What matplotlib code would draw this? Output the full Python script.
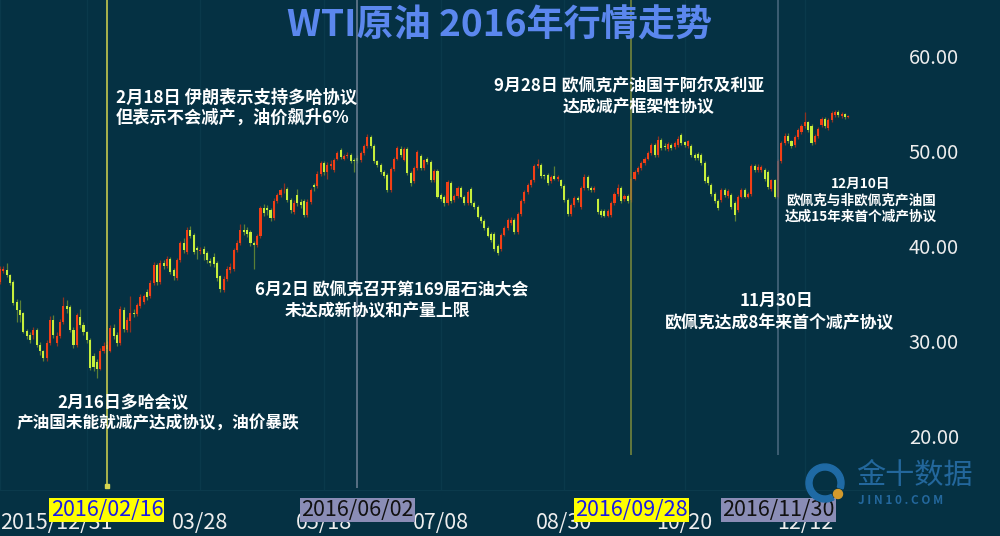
import numpy as np
import pandas as pd
import matplotlib
matplotlib.use('Agg')
import matplotlib.pyplot as plt
from matplotlib.patches import Wedge, Circle
from matplotlib.transforms import blended_transform_factory

# ---------------- data ----------------
start_date = '2015-12-31'
end_date = '2016-12-30'
holidays = ['2016-01-01', '2016-03-25', '2016-05-30', '2016-07-04',
            '2016-09-05', '2016-11-24', '2016-12-26']

opens = [
    36.2, 37.4, 37.5, 36.9, 36.2, 34.1, 33.3, 32.9, 31.1, 30.6,
    30.6, 31.2, 29.6, 28.9, 28.2, 29.8, 32.2, 29.8, 30.5, 32.0,
    33.7, 33.6, 31.2, 29.6, 32.5, 31.7, 30.9, 30.1, 28.4, 27.8,
    27.1, 29.0, 29.2, 29.0, 31.4, 30.6, 29.8, 33.3, 31.2, 32.1,
    33.0, 32.8, 33.7, 34.1, 35.2, 34.7, 36.1, 38.0, 36.2, 38.2,
    37.9, 38.6, 37.5, 36.6, 38.5, 40.3, 39.4, 41.7, 41.2, 39.8,
    39.5, 39.7, 39.3, 38.4, 38.8, 38.2, 36.8, 35.4, 36.5, 37.5,
    37.6, 39.6, 40.3, 41.7, 41.7, 41.5, 40.3, 40.1, 41.0, 44.0,
    44.0, 43.8, 42.9, 44.7, 45.4, 45.95, 46.0, 44.8, 43.6, 45.4,
    44.6, 44.7, 43.3, 44.6, 46.4, 46.3, 47.6, 48.7, 47.8, 48.4,
    48.0, 49.2, 50.1, 49.2, 49.5, 49.6, 49.1, 49.3, 49.0, 49.8,
    50.5, 51.5, 50.5, 48.9, 48.5, 47.8, 47.5, 45.9, 48.1, 49.2,
    50.2, 49.1, 50.2, 47.7, 46.8, 48.2, 49.5, 48.2, 49.2, 48.8,
    46.9, 47.9, 45.4, 45.2, 44.5, 46.6, 44.8, 45.3, 46.1, 45.2,
    44.5, 46.0, 44.5, 44.1, 43.1, 42.6, 41.9, 41.3, 41.3, 40.0,
    39.7, 41.2, 41.9, 42.4, 42.7, 41.5, 43.4, 44.7, 45.7, 46.4,
    46.9, 48.4, 48.5, 47.45, 47.5, 46.8, 47.4, 47.0, 46.9, 46.3,
    44.8, 43.4, 44.3, 45.1, 44.1, 46.1, 47.3, 46.1, 45.9, 44.9,
    43.7, 43.7, 43.2, 43.3, 44.5, 45.5, 46.1, 44.9, 45.3, 44.8,
    47.1, 47.8, 48.2, 48.7, 49.2, 49.8, 50.6, 49.6, 51.2, 50.5,
    50.2, 50.6, 50.4, 50.6, 51.7, 50.9, 50.5, 50.5, 49.6, 49.7,
    49.6, 48.7, 47.3, 46.4, 45.5, 44.7, 44.8, 45.9, 45.3, 45.4,
    44.5, 43.8, 45.2, 45.9, 45.2, 45.5, 48.4, 48.0, 48.0, 48.0,
    47.8, 46.0, 46.9, 45.2, 48.9, 50.8, 51.6, 51.0, 50.6, 51.5,
    52.0, 52.6, 53.0, 52.6, 50.9, 51.6, 52.7, 53.4, 52.4, 53.3,
    53.8, 54.1, 53.7, 53.9, 53.6,
]
closes = [
    37.6, 37.6, 36.9, 36.1, 34.0, 33.3, 32.7, 31.0, 30.5, 30.1,
    31.2, 29.6, 28.9, 28.2, 29.8, 32.2, 30.6, 30.5, 32.0, 33.7,
    33.4, 31.2, 29.6, 32.7, 31.7, 30.9, 30.1, 27.2, 27.3, 27.1,
    29.0, 29.5, 29.6, 31.4, 30.5, 29.8, 33.4, 31.3, 32.2, 33.0,
    32.8, 33.8, 34.6, 34.7, 34.6, 36.1, 38.0, 36.2, 38.2, 37.9,
    38.6, 37.3, 36.8, 38.5, 40.3, 39.6, 41.7, 41.0, 39.4, 39.6,
    39.6, 39.2, 38.5, 38.2, 38.1, 36.6, 35.5, 36.5, 37.6, 37.8,
    39.6, 40.3, 41.7, 41.5, 41.3, 40.3, 40.1, 41.0, 44.0, 43.5,
    43.8, 42.9, 44.7, 45.4, 45.9, 46.05, 44.8, 43.8, 44.5, 44.5,
    44.3, 43.3, 44.6, 45.9, 46.2, 47.6, 48.7, 47.8, 48.5, 48.6,
    49.1, 49.8, 49.4, 49.5, 49.6, 48.9, 48.9, 48.9, 49.8, 50.5,
    51.5, 50.5, 48.9, 48.5, 47.8, 47.4, 45.9, 48.1, 49.2, 50.3,
    49.6, 50.2, 47.7, 46.6, 48.2, 49.9, 48.2, 49.0, 48.8, 46.9,
    47.9, 45.2, 44.9, 44.5, 46.7, 44.7, 45.3, 46.1, 45.2, 44.5,
    45.7, 44.5, 44.1, 43.1, 42.6, 41.9, 41.1, 40.6, 39.7, 39.3,
    41.2, 41.9, 42.7, 42.7, 41.5, 43.4, 44.7, 45.7, 46.4, 46.9,
    48.4, 48.6, 47.4, 47.35, 46.6, 47.3, 47.1, 47.3, 46.3, 44.8,
    43.4, 44.3, 45.1, 44.8, 46.1, 47.3, 46.1, 45.9, 46.1, 43.6,
    43.3, 43.2, 43.7, 44.5, 45.5, 46.1, 44.7, 45.3, 44.7, 47.1,
    47.8, 48.2, 48.7, 49.2, 49.8, 50.6, 49.6, 51.2, 50.3, 50.4,
    50.7, 50.3, 50.8, 51.3, 50.8, 50.6, 51.0, 49.6, 49.3, 49.3,
    48.7, 46.8, 46.6, 45.5, 44.7, 44.0, 45.9, 45.4, 45.8, 44.1,
    43.3, 45.2, 45.9, 45.2, 45.5, 48.4, 48.0, 48.3, 48.3, 47.0,
    46.2, 46.9, 45.2, 48.9, 50.8, 51.6, 51.0, 50.5, 51.5, 52.2,
    52.6, 53.0, 52.2, 50.8, 51.6, 52.3, 53.4, 52.6, 53.3, 54.0,
    54.1, 53.8, 53.9, 53.6, 53.7,
]
highs = [
    37.9, 37.9, 38.2, 37.1, 36.4, 34.4, 34.3, 33.1, 31.3, 30.9,
    31.5, 31.4, 29.9, 29.1, 30.1, 32.6, 32.7, 30.9, 32.3, 34.6,
    34.3, 33.8, 31.5, 33.0, 33.4, 32.0, 31.1, 30.3, 28.7, 28.1,
    29.3, 29.9, 30.0, 31.7, 31.8, 30.9, 33.7, 33.6, 32.5, 34.7,
    33.4, 34.0, 34.9, 35.0, 35.5, 36.4, 38.3, 38.2, 38.5, 38.5,
    38.9, 38.8, 37.7, 38.7, 40.5, 40.8, 42.0, 42.1, 41.4, 40.0,
    39.9, 40.0, 39.5, 38.7, 39.3, 38.4, 37.0, 36.8, 37.9, 38.2,
    39.8, 40.6, 42.3, 42.3, 42.0, 41.7, 40.5, 41.3, 44.2, 44.4,
    44.3, 44.0, 45.0, 45.6, 46.1, 46.6, 46.2, 45.0, 44.8, 46.0,
    44.9, 44.9, 44.9, 46.1, 46.6, 47.9, 48.9, 48.9, 48.8, 49.0,
    49.3, 50.0, 50.3, 49.7, 49.9, 49.8, 49.3, 49.6, 50.0, 50.7,
    51.8, 51.7, 50.7, 49.1, 48.7, 48.0, 47.7, 48.3, 49.4, 50.5,
    50.5, 50.4, 50.4, 47.9, 48.4, 50.1, 49.7, 49.2, 49.4, 49.0,
    48.1, 48.1, 45.6, 45.4, 46.9, 46.8, 45.5, 46.3, 46.3, 45.4,
    45.9, 46.2, 44.7, 44.3, 43.3, 42.8, 42.1, 41.5, 41.5, 40.2,
    41.4, 42.1, 42.9, 43.0, 42.9, 43.6, 44.9, 45.9, 46.6, 47.1,
    48.6, 49.2, 48.7, 47.6, 47.7, 47.5, 48.4, 47.5, 47.1, 46.5,
    45.0, 44.5, 45.3, 45.3, 46.3, 47.6, 47.5, 46.3, 46.3, 45.1,
    43.9, 43.9, 43.9, 44.7, 45.7, 46.5, 46.3, 45.5, 45.5, 47.3,
    48.0, 48.4, 48.9, 49.4, 50.0, 50.8, 50.8, 51.6, 51.4, 50.8,
    50.9, 50.8, 51.0, 51.6, 51.9, 51.1, 51.2, 50.7, 49.8, 49.9,
    49.8, 48.9, 47.5, 46.6, 45.7, 44.9, 46.1, 46.1, 46.0, 45.6,
    44.7, 45.4, 46.1, 46.1, 45.7, 48.6, 48.6, 48.6, 48.5, 48.2,
    48.0, 47.1, 47.1, 49.2, 51.0, 51.9, 51.9, 51.2, 51.7, 52.4,
    52.8, 54.1, 53.2, 52.8, 51.8, 52.5, 53.6, 53.6, 53.5, 54.2,
    54.3, 54.3, 54.1, 54.0, 53.8,
]
lows = [
    36.0, 37.2, 36.7, 35.9, 33.8, 32.0, 32.0, 30.8, 30.2, 29.8,
    30.2, 29.4, 28.5, 27.9, 27.9, 29.6, 30.3, 29.5, 30.3, 31.8,
    33.0, 31.0, 29.3, 29.4, 31.4, 30.6, 29.8, 27.0, 26.8, 26.1,
    26.9, 28.7, 28.9, 28.8, 30.2, 29.5, 29.6, 31.0, 30.9, 31.0,
    32.5, 32.6, 33.5, 33.9, 34.3, 34.5, 35.9, 35.9, 36.0, 37.6,
    37.7, 37.1, 36.4, 36.4, 38.3, 39.3, 39.2, 40.8, 39.2, 38.6,
    39.2, 38.5, 38.2, 37.9, 37.8, 36.3, 35.2, 35.2, 36.3, 37.2,
    37.4, 39.4, 40.1, 41.2, 40.9, 40.0, 37.6, 39.9, 40.8, 43.2,
    43.3, 42.6, 42.7, 44.5, 45.2, 45.6, 44.6, 43.5, 43.4, 44.2,
    44.0, 43.1, 43.1, 44.4, 45.8, 46.1, 47.4, 47.5, 47.0, 48.1,
    47.8, 49.0, 49.2, 49.0, 49.3, 48.7, 47.8, 48.7, 48.8, 49.6,
    50.3, 50.3, 48.7, 48.3, 47.6, 47.2, 45.7, 45.7, 47.9, 49.0,
    49.4, 48.9, 47.5, 46.3, 46.6, 48.0, 48.0, 48.0, 48.6, 46.7,
    46.7, 45.0, 44.7, 44.2, 44.3, 44.5, 44.6, 45.1, 45.0, 44.3,
    44.3, 44.3, 43.9, 42.9, 42.4, 41.7, 40.9, 40.4, 39.5, 39.1,
    39.5, 41.0, 41.7, 42.2, 41.3, 41.3, 43.2, 44.5, 45.5, 46.2,
    46.7, 48.2, 47.2, 47.1, 46.4, 46.6, 46.9, 46.8, 46.1, 44.6,
    43.2, 43.2, 44.1, 44.6, 43.9, 45.9, 45.9, 45.7, 45.7, 43.4,
    43.1, 43.0, 43.0, 43.1, 44.3, 45.3, 44.5, 44.7, 44.5, 44.6,
    46.9, 47.6, 48.0, 48.5, 49.0, 49.6, 49.4, 49.4, 50.1, 50.1,
    50.0, 50.1, 50.2, 50.4, 50.6, 50.4, 50.3, 49.4, 49.1, 49.1,
    48.5, 46.6, 46.4, 45.3, 44.5, 43.8, 44.6, 45.2, 45.1, 43.9,
    42.6, 43.6, 45.0, 45.0, 45.0, 45.3, 47.8, 47.8, 47.8, 46.8,
    46.0, 45.8, 45.0, 45.0, 48.7, 50.6, 50.8, 50.3, 50.4, 51.3,
    51.8, 52.4, 52.0, 50.6, 50.7, 51.4, 52.5, 52.4, 52.2, 53.1,
    53.6, 53.6, 53.5, 53.4, 53.5,
]

y_ticks = [20, 30, 40, 50, 60]
tick_dates = ['2015-12-31', '2016-02-08', '2016-03-28', '2016-05-18',
              '2016-07-08', '2016-08-30', '2016-10-20', '2016-12-12']
tick_labels = ['2015/12/31', '', '03/28', '05/18', '07/08', '08/30', '10/20', '12/12']

event_dates = ['2016-02-16', '2016-06-02', '2016-09-28', '2016-11-30']
event_labels = ['2016/02/16', '2016/06/02', '2016/09/28', '2016/11/30']

title = 'WTI原油 2016年行情走势'

# ---------------- style ----------------
plt.rcParams['font.family'] = ['Noto Sans CJK SC', 'DejaVu Sans']
BG = '#053143'
UP, DOWN = '#f23f16', '#c6ee3c'
UP_W, DOWN_W = '#8e3222', '#5a7f36'

dates = pd.bdate_range(start_date, end_date, freq='C', holidays=holidays)
n = min(len(dates), len(closes))
dates = dates[:n]
pos = {d.strftime('%Y-%m-%d'): i for i, d in enumerate(dates)}

o = np.array(opens[:n]); c = np.array(closes[:n])
h = np.array(highs[:n]); l = np.array(lows[:n])
x = np.arange(n)
up = c >= o

fig = plt.figure(figsize=(10, 5.36), dpi=100, facecolor=BG)
ax = fig.add_axes([0, 46 / 536, 0.895, 490 / 536])
ax.set_facecolor(BG)

ax.vlines(x, l, h, colors=np.where(up, UP_W, DOWN_W), lw=0.9, zorder=2)
ax.bar(x, np.maximum(np.abs(c - o), 0.09), bottom=np.minimum(o, c), width=0.62,
       color=np.where(up, UP, DOWN), linewidth=0, zorder=3)

ax.set_xlim(0, 268)
ax.set_ylim(14.32, 65.89)

ax.yaxis.tick_right()
ax.set_yticks(y_ticks)
ax.set_yticklabels([f'{v:.2f}' for v in y_ticks])
ax.tick_params(axis='y', length=0, pad=10, labelsize=14.5, colors='#eeeeee')

ax.set_xticks([pos[d] for d in tick_dates])
ax.set_xticklabels(tick_labels)
ax.tick_params(axis='x', length=0, pad=15.5, labelsize=15.5, colors='#eeeeee')
ax.get_xticklabels()[0].set_horizontalalignment('left')
ax.grid(axis='x', color='#0a394b', lw=0.9, zorder=0)

for s in ['top', 'right', 'left']:
    ax.spines[s].set_visible(False)
ax.spines['bottom'].set_color('#0b3a4c')

# event lines
ev_colors = ['#d6d650', '#6f8196', '#7c8c3c', '#4c6a80']
ev_bottoms = [14.63, 14.53, 18.0, 18.0]
for d, col, b in zip(event_dates, ev_colors, ev_bottoms):
    ax.vlines(pos[d], b, 65.89, colors=col, lw=1.1, zorder=4)
ax.plot([pos[event_dates[0]]], [14.7], marker='s', ms=3, color=ev_colors[0], zorder=4,
        clip_on=False)

trans = blended_transform_factory(ax.transData, ax.transAxes)
box_styles = [('#ffff00', '#1a1ae6'), ('#8a8db6', '#111111'),
              ('#ffff00', '#1a1ae6'), ('#8a8db6', '#111111')]
for d, lab, (fc, tc) in zip(event_dates, event_labels, box_styles):
    ax.text(pos[d], -0.041, lab, transform=trans, ha='center', va='center',
            fontsize=15.5, color=tc, zorder=10, clip_on=False,
            bbox=dict(boxstyle='square,pad=0.06', fc=fc, ec='none'))

# overlay in pixel coordinates for text / logo
ov = fig.add_axes([0, 0, 1, 1], zorder=5)
ov.set_xlim(0, 1000); ov.set_ylim(536, 0); ov.axis('off')
ov.patch.set_alpha(0)

ov.text(500, 26, title, ha='center', va='center', fontsize=26.7, weight='bold', color='#5b87ee')

W = '#ffffff'
notes = [
    (116, 98, '2月18日 伊朗表示支持多哈协议', 12.4),
    (116, 118, '但表示不会减产，油价飙升6%', 12.4),
    (57, 403, '2月16日多哈会议', 12.2),
    (17, 424, '产油国未能就减产达成协议，油价暴跌', 12.0),
    (255, 290, '6月2日 欧佩克召开第169届石油大会', 12.2),
    (285, 311, '未达成新协议和产量上限', 12.2),
    (494, 86, '9月28日 欧佩克产油国于阿尔及利亚', 12.2),
    (563, 107, '达成减产框架性协议', 12.2),
    (740, 301, '11月30日', 12.2),
    (665, 323, '欧佩克达成8年来首个减产协议', 12.2),
]
for xx, yy, t, fs in notes:
    ov.text(xx, yy, t, ha='left', va='center', fontsize=fs, weight='bold', color=W)

for yy, t in [(184, '12月10日'), (201, '欧佩克与非欧佩克产油国'), (217, '达成15年来首个减产协议')]:
    ov.text(861, yy, t, ha='center', va='center', fontsize=9.8, weight='bold', color=W)

# logo
LOGO = '#23679c'
ov.add_patch(Wedge((825, 483), 19, 62, 378, width=6, color='#1f6aa5'))
ov.add_patch(Circle((838, 494), 4.5, color='#d39a2c'))
ov.text(856, 476, '金十数据', ha='left', va='center', fontsize=21, color=LOGO)
ov.text(858, 501, 'J I N 1 0 . C O M', ha='left', va='center', fontsize=8.5,
        weight='bold', color=LOGO)

fig.savefig('out.png', dpi=100, facecolor=BG)
